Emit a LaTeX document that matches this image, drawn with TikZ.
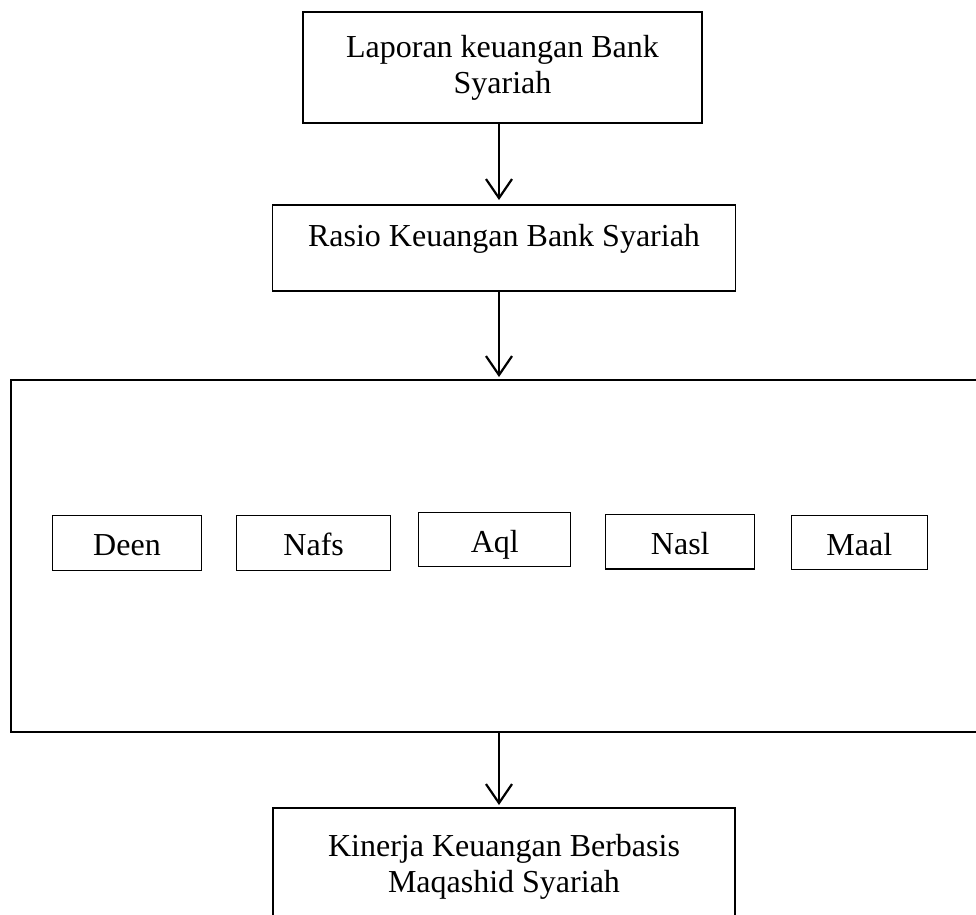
\documentclass[tikz,border=0pt]{standalone}
\usepackage{fontspec}
\setmainfont{Liberation Serif}
\usetikzlibrary{arrows.meta}
\begin{document}
\begin{tikzpicture}[x=1pt,y=-1pt,
  box/.style={draw=black, line width=1.3pt, inner sep=0pt, outer sep=0pt},
  txt/.style={font=\fontsize{32}{36}\selectfont, inner sep=0pt},
  small/.style={box, txt, minimum height=55pt, text height=26pt, text depth=0pt},
  arr/.style={line width=2.2pt, -{Straight Barb[length=19pt,width=26pt,line width=2.2pt]}}]
\clip (0,0) rectangle (976,914);
\fill[white] (0,0) rectangle (976,914);
\coordinate (ax) at (499,0);
% top box
\node[box, txt, align=center, minimum width=399pt, minimum height=111pt] (lap) at (502.5,67.5)
  {Laporan keuangan Bank\\Syariah};
% rasio box
\node[box, minimum width=463pt, minimum height=86pt] (rasio) at (504,248) {};
\node[txt, anchor=base] (rasiotxt) at (504,246) {Rasio Keuangan Bank Syariah};
% big box (extends past the right edge)
\node[box, minimum width=979pt, minimum height=352pt] (big) at (500.5,556) {};
% small boxes
\node[small, minimum width=149pt] (deen) at (127,542.7) {Deen};
\node[small, minimum width=154pt] (nafs) at (313.7,542.7) {Nafs};
\node[small, minimum width=152pt, minimum height=54.4pt] (aql) at (494.8,539.5) {Aql};
\node[small, minimum width=149pt, minimum height=54.3pt] (nasl) at (680.3,541.8) {Nasl};
\node[small, minimum width=136pt, minimum height=54pt] (maal) at (859.3,542.3) {Maal};
% bottom box (cut by the lower edge)
\node[box, minimum width=462pt, minimum height=122pt] (kin) at (504,869) {};
\node[txt, align=center] (kintxt) at (504,867) {Kinerja Keuangan Berbasis\\Maqashid Syariah};
% arrows
\draw[arr, shorten >=5pt] (lap.south -| ax) -- (rasio.north -| ax);
\draw[arr, shorten >=3pt] (rasio.south -| ax) -- (big.north -| ax);
\draw[arr, shorten >=3pt] (big.south -| ax) -- (kin.north -| ax);
\end{tikzpicture}
\end{document}
